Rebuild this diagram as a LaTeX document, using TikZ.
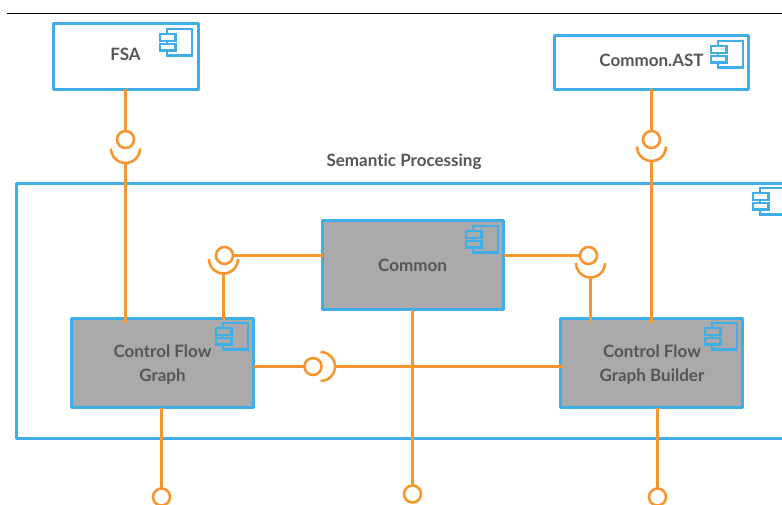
\documentclass[tikz,border=0pt]{standalone}
\usepackage{fontspec}
\setmainfont[Ligatures=NoCommon]{Lato}
\definecolor{cblue}{HTML}{3FAEE8}
\definecolor{corange}{HTML}{F7962F}
\definecolor{cgray}{HTML}{AAAAAA}
\definecolor{ctext}{HTML}{555555}
\tikzset{
  compbox/.style={draw=cblue,line width=2.95pt,rectangle,inner sep=0pt,outer sep=0pt,line join=round},
  plainbox/.style={compbox,fill=white},
  graybox/.style={compbox,fill=cgray},
  lbl/.style={text=ctext,font=\fontsize{17}{24}\selectfont\bfseries,align=center,inner sep=0pt},
  conn/.style={draw=corange,line width=2.6pt},
  ball/.style={circle,draw=corange,line width=2.6pt,minimum size=17pt,inner sep=0pt,outer sep=0pt},
  pics/compicon/.style={code={
    \draw[cblue,line width=2.4pt] (7,0) rectangle (32,26.5);
    \draw[cblue,line width=2.4pt,fill=#1] (0,5) rectangle (15.5,12);
    \draw[cblue,line width=2.4pt,fill=#1] (0,15) rectangle (15.5,21.5);
  }}
}
\begin{document}
\begin{tikzpicture}[x=1pt,y=-1pt]
\useasboundingbox (0,0) rectangle (782,505);
\clip (0,0) rectangle (782,505);
% top rule
\coordinate (ruleL) at (7,13.5);
\coordinate (ruleR) at (782,13.5);
\draw[black,line width=1.3pt] (ruleL) -- (ruleR);
% container
\node[compbox,minimum width=800pt,minimum height=255pt,anchor=north west] (sem) at (16.5,183.5) {};
\pic at (753,188) {compicon=white};
\node[lbl] (semlbl) at (404,161.5) {Semantic Processing};
% top boxes
\node[plainbox,minimum width=145pt,minimum height=66pt,anchor=north west] (fsa) at (53.5,23.5) {};
\node[lbl] (fsalbl) at (125.5,54.5) {FSA};
\pic at (160,29) {compicon=white};
\node[plainbox,minimum width=194pt,minimum height=54pt,anchor=north west] (ast) at (554.5,35.5) {};
\node[lbl] (astlbl) at (651.5,60.5) {Common.AST};
\pic at (711,41) {compicon=white};
% grey boxes
\node[graybox,minimum width=181pt,minimum height=89pt,anchor=north west] (com) at (322.5,220.5) {};
\node[lbl] (comlbl) at (412.5,265) {Common};
\pic at (466,226) {compicon=cgray};
\node[graybox,minimum width=182pt,minimum height=89pt,anchor=north west] (cfg) at (71.5,318.5) {};
\node[lbl] (cfglbl) at (162.5,364.5) {Control Flow\\Graph};
\pic at (216,323) {compicon=cgray};
\node[graybox,minimum width=182pt,minimum height=89pt,anchor=north west] (cfb) at (560.5,318.5) {};
\node[lbl] (cfblbl) at (652,364.5) {Control Flow\\Graph Builder};
\pic at (705,323) {compicon=cgray};
% balls
\node[ball] (b1) at (125.5,139.5) {};
\node[ball] (b2) at (651.5,139.5) {};
\node[ball] (b3) at (224.5,255.5) {};
\node[ball] (b4) at (588.5,255.5) {};
\node[ball] (b5) at (313,366.5) {};
\node[ball] (b6) at (161.5,497) {};
\node[ball] (b7) at (412.5,494) {};
\node[ball] (b8) at (657.5,497) {};
% sockets: coordinates at the outer point of each cup
\coordinate (s1) at (125.5,163);
\coordinate (s2) at (651.5,161);
\coordinate (s3) at (223.5,273.5);
\coordinate (s4) at (590.5,277.5);
\coordinate (s5) at (335,366.5);
\foreach \s in {s1,s2,s3,s4}
  \draw[conn] (\s) ++(-14.5pt,14.5pt) arc[start angle=180,end angle=360,radius=14.5pt];
\draw[conn] (s5) ++(-14.5pt,-14.5pt) arc[start angle=-90,end angle=90,radius=14.5pt];
% connectors
\draw[conn] (b1 |- fsa.south) -- (b1);
\draw[conn] (b2 |- ast.south) -- (b2);
\draw[conn,shorten >=-4pt] (s1) -- (s1 |- cfg.north);
\draw[conn,shorten >=-4pt] (s2) -- (s2 |- cfb.north);
\draw[conn] (b3) -- (b3 -| com.west);
\draw[conn,shorten >=-1pt] (s3) -- (s3 |- cfg.north);
\draw[conn] (b4) -- (b4 -| com.east);
\draw[conn,shorten >=-4pt] (s4) -- (s4 |- cfb.north);
\draw[conn] (b5) -- (b5 -| cfg.east);
\draw[conn,shorten >=-3pt] (s5) -- (s5 -| cfb.west);
\draw[conn] (b6 |- cfg.south) -- (b6);
\draw[conn] (b7 |- com.south) -- (b7);
\draw[conn] (b8 |- cfb.south) -- (b8);
\end{tikzpicture}
\end{document}
